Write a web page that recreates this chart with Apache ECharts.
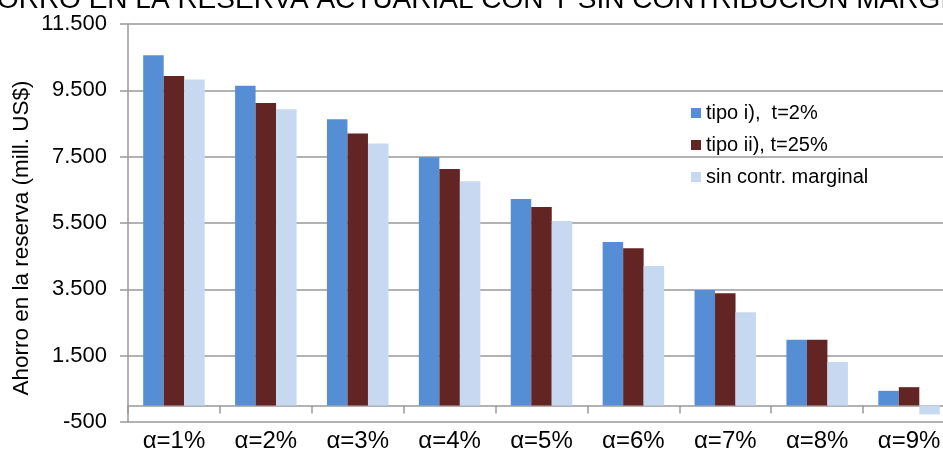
<!DOCTYPE html>
<html>
<head>
<meta charset="utf-8">
<script src="https://cdn.jsdelivr.net/npm/echarts@6/dist/echarts.min.js"></script>
<style>
  html, body { margin: 0; padding: 0; background: #fff; }
  #chart { width: 943px; height: 451px; }
</style>
</head>
<body>
<div id="chart"></div>
<script>
// Categories (contribution rate α) and savings in the actuarial reserve, mill. US$
const categories = ['α=1%', 'α=2%', 'α=3%', 'α=4%', 'α=5%', 'α=6%', 'α=7%', 'α=8%', 'α=9%'];
const tipoI = [10560, 9640, 8630, 7480, 6220, 4930, 3480, 1980, 440];
const tipoII = [9930, 9120, 8200, 7130, 5980, 4740, 3380, 1980, 550];
const sinContr = [9830, 8930, 7900, 6760, 5560, 4200, 2810, 1310, -270];
const seriesNames = ['tipo i),  t=2%', 'tipo ii), t=25%', 'sin contr. marginal'];
const titleText = 'AHORRO EN LA RESERVA ACTUARIAL CON Y SIN CONTRIBUCION MARGINAL';
const yAxisTitle = 'Ahorro en la reserva (mill. US$)';

const FONT = '"Liberation Sans", Arial, sans-serif';
const GRID_GRAY = '#999999';

// Thousands separated by dots: 11500 -> "11.500"
function fmtNumber(v) {
  const s = String(Math.abs(Math.round(v))).replace(/\B(?=(\d{3})+(?!\d))/g, '.');
  return (v < 0 ? '-' : '') + s;
}

const chart = echarts.init(document.getElementById('chart'), null, { renderer: 'canvas' });

const barStyle = (color) => ({
  type: 'bar',
  barWidth: 20.5,
  barGap: '0%',
  itemStyle: { color: color },
  emphasis: { disabled: true }
});

chart.setOption({
  animation: false,
  backgroundColor: '#ffffff',
  title: {
    text: titleText,
    left: -42,
    top: -14,
    padding: 0,
    textStyle: { fontFamily: FONT, fontSize: 28, fontWeight: 'normal', color: '#000' }
  },
  legend: {
    orient: 'vertical',
    left: 691,
    top: 103,
    padding: 0,
    itemWidth: 10,
    itemHeight: 10,
    itemGap: 12,
    icon: 'rect',
    textStyle: { fontFamily: FONT, fontSize: 20, color: '#000', lineHeight: 20 },
    data: seriesNames
  },
  grid: {
    left: 128, right: -12, top: 24, bottom: 29,
    containLabel: false,
    outerBoundsMode: 'none'
  },
  xAxis: {
    type: 'category',
    data: categories,
    axisLine: { show: true, onZero: true, lineStyle: { color: GRID_GRAY, width: 1.5 } },
    axisTick: { show: true, length: 8, lineStyle: { color: GRID_GRAY, width: 1.5 } },
    axisLabel: { margin: 7, fontFamily: FONT, fontSize: 24, color: '#000' },
    splitLine: { show: false }
  },
  yAxis: {
    type: 'value',
    min: -500,
    max: 11500,
    interval: 2000,
    axisLine: { show: true, lineStyle: { color: GRID_GRAY, width: 1.5 } },
    axisTick: { show: true, length: 8, lineStyle: { color: GRID_GRAY, width: 1.5 } },
    axisLabel: { margin: 21, fontFamily: FONT, fontSize: 22, color: '#000', formatter: fmtNumber },
    splitLine: { show: true, lineStyle: { color: GRID_GRAY, width: 1.5 } }
  },
  graphic: [{
    type: 'text',
    x: 22,
    y: 238,
    rotation: Math.PI / 2,
    style: {
      text: yAxisTitle,
      fontFamily: FONT,
      fontSize: 22.5,
      fill: '#000',
      align: 'center',
      verticalAlign: 'middle'
    }
  }],
  series: [
    Object.assign(barStyle('#558ED5'), { name: seriesNames[0], data: tipoI }),
    Object.assign(barStyle('#632523'), { name: seriesNames[1], data: tipoII }),
    Object.assign(barStyle('#C6D9F1'), { name: seriesNames[2], data: sinContr })
  ]
});
</script>
</body>
</html>
